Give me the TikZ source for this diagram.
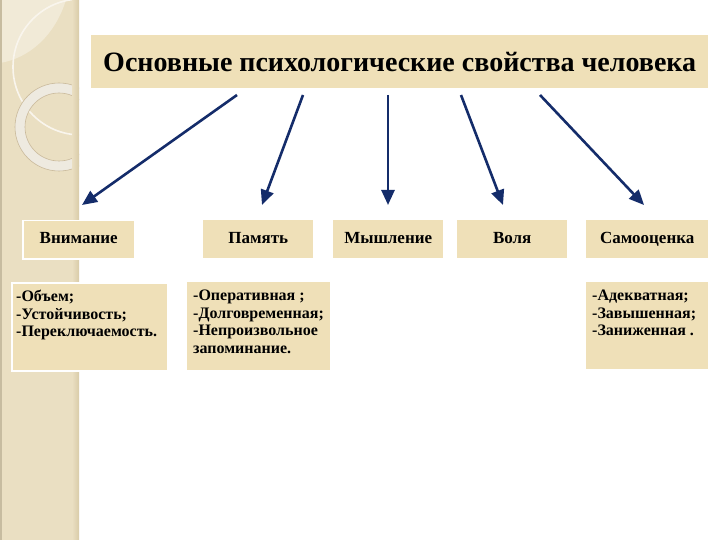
\documentclass[tikz,border=0pt]{standalone}
\usepackage{fontspec}
\setmainfont{Liberation Serif}
\usetikzlibrary{arrows.meta}
\definecolor{strip}{HTML}{EADFC2}
\definecolor{stripdark}{HTML}{D9CBA8}
\definecolor{boxfill}{HTML}{EFE0B8}
\definecolor{ring}{HTML}{EEEAE0}
\definecolor{ringedge}{HTML}{C9B99A}
\definecolor{navy}{HTML}{142C6A}
\tikzset{
  box/.style={fill=boxfill, draw=none, inner sep=0pt, anchor=north west},
  wbox/.style={box, draw=white, line width=1.5pt},
  head/.style={font=\bfseries\fontsize{17}{20}\selectfont, inner sep=0pt, text height=11pt, text depth=3pt},
  detail/.style={font=\bfseries\fontsize{16}{17.5}\selectfont, align=left, anchor=north west, inner sep=0pt},
  arr/.style={draw=navy, line width=2.6pt, -{Triangle[length=15pt,width=13pt]}, shorten >=0pt}
}
\begin{document}
\begin{tikzpicture}[x=1pt,y=-1pt]
\useasboundingbox (0,0) rectangle (720,540);
\fill[white] (0,0) rectangle (720,540);
% left strip
\fill[strip] (0,0) rectangle (79,540);
\begin{scope}
  \clip (0,0) rectangle (79,540);
  \fill[white!35!strip] (0,0) -- (0,63) .. controls (30,58) and (55,35) .. (66,0) -- cycle;
  \draw[white!70!strip, line width=1.6pt] (81,67) circle (68);
  \fill[ring, even odd rule] (59,127) circle (44) (59,127) circle (34);
  \draw[ringedge, line width=0.6pt] (59,127) circle (44);
  \draw[ringedge, line width=0.6pt] (59,127) circle (34);
  \shade[left color=strip, right color=stripdark] (72,0) rectangle (79,540);
\end{scope}
\fill[stripdark!80!gray] (0,0) rectangle (1.5,540);
% title
\node[box, minimum width=617, minimum height=53] (title) at (91,35) {};
\node[font=\bfseries\fontsize{28}{32}\selectfont, inner sep=0pt] (ttext) at (title.center) {Основные психологические свойства человека};
% second row
\node[wbox, minimum width=112, minimum height=38] (vn) at (22,220) {};
\node[head] at (vn.center) {Внимание};
\node[box, minimum width=110, minimum height=38] (pm) at (203,220) {};
\node[head] at (pm.center) {Память};
\node[box, minimum width=110, minimum height=38] (my) at (333,220) {};
\node[head] at (my.center) {Мышление};
\node[box, minimum width=110, minimum height=38] (vo) at (457,220) {};
\node[head] at (vo.center) {Воля};
\node[box, minimum width=122, minimum height=38] (sa) at (586,220) {};
\node[head] at (sa.center) {Самооценка};
% third row
\node[wbox, minimum width=156, minimum height=88] (d1) at (11,282) {};
\node[detail] at ([shift={(5,8)}]d1.north west) {-Объем;\\-Устойчивость;\\-Переключаемость.};
\node[box, minimum width=143, minimum height=88] (d2) at (187,282) {};
\node[detail] at ([shift={(6,8)}]d2.north west) {-Оперативная ;\\-Долговременная;\\-Непроизвольное\\запоминание.};
\node[box, minimum width=122, minimum height=87] (d3) at (586,282) {};
\node[detail] at ([shift={(6,8)}]d3.north west) {-Адекватная;\\-Завышенная;\\-Заниженная .};
% arrows
\coordinate (s1) at (237,95); \coordinate (e1) at (82,205);
\coordinate (s2) at (303,95); \coordinate (e2) at (262,205);
\coordinate (s3) at (388,95); \coordinate (e3) at (388,205);
\coordinate (s4) at (461,95); \coordinate (e4) at (503,205);
\coordinate (s5) at (540,95); \coordinate (e5) at (644,205);
\draw[arr] (s1) -- (e1);
\draw[arr] (s2) -- (e2);
\draw[arr] (s3) -- (e3);
\draw[arr] (s4) -- (e4);
\draw[arr] (s5) -- (e5);
\end{tikzpicture}
\end{document}
